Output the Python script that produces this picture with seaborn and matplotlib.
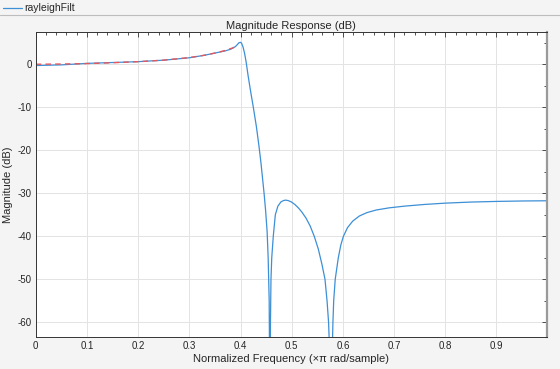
import numpy as np
import pandas as pd
import seaborn as sns
import matplotlib.pyplot as plt
from matplotlib.lines import Line2D
from matplotlib.ticker import MultipleLocator

# ---------------------------------------------------------
# data (normalized freq, dB)
# ---------------------------------------------------------
freq = [0.0, 0.05, 0.1, 0.15, 0.2, 0.25, 0.3, 0.33, 0.354, 0.37, 0.381, 0.39,
        0.394, 0.397, 0.4, 0.402, 0.405, 0.408, 0.411, 0.415, 0.42, 0.425,
        0.431, 0.436, 0.44, 0.443, 0.446, 0.449, 0.452, 0.454, 0.456, 0.4575,
        0.4585, 0.4595, 0.461, 0.464, 0.468, 0.473, 0.479, 0.484, 0.488,
        0.493, 0.499, 0.506, 0.513, 0.52, 0.528, 0.536, 0.544, 0.552, 0.559,
        0.565, 0.569, 0.572, 0.575, 0.577, 0.5785, 0.5805, 0.582, 0.585,
        0.591, 0.596, 0.601, 0.609, 0.619, 0.632, 0.647, 0.665, 0.69, 0.72,
        0.76, 0.8, 0.85, 0.9, 0.95, 0.998]
mag_db = [-0.3, -0.15, 0.2, 0.4, 0.6, 0.95, 1.5, 2.1, 2.7, 3.1, 3.5, 4.1,
          4.6, 5.0, 5.1, 4.9, 4.0, 2.5, 0.5, -2.8, -6.5, -10,
          -14.5, -19, -23, -26.5, -30, -34, -39, -45, -55, -85,
          -60, -50, -45, -40, -35, -33, -32, -31.7, -31.6,
          -31.7, -32.0, -32.6, -33.4, -34.4, -35.8, -37.6, -40, -43, -46.5,
          -50, -55, -60, -70, -85, -70, -60, -55, -50,
          -45, -42, -40, -38, -36.5, -35.3, -34.5, -33.9, -33.4, -33.0,
          -32.6, -32.3, -32.05, -31.9, -31.8, -31.75]

ideal_freq = [0.0, 0.05, 0.1, 0.15, 0.2, 0.25, 0.3, 0.33, 0.354, 0.37, 0.385, 0.392]
ideal_db = [0.0, 0.05, 0.15, 0.35, 0.6, 0.95, 1.55, 2.1, 2.7, 3.2, 3.8, 4.2]

xticks = [0, 0.1, 0.2, 0.3, 0.4, 0.5, 0.6, 0.7, 0.8, 0.9]
yticks = [-60, -50, -40, -30, -20, -10, 0]

resp = pd.DataFrame({"f": freq, "db": mag_db})
ideal = pd.DataFrame({"f": ideal_freq, "db": ideal_db})

# ---------------------------------------------------------
# style
# ---------------------------------------------------------
sns.set_theme(style="white")
plt.rcParams['font.family'] = ['Liberation Sans', 'DejaVu Sans']
bg = '#f4f4f4'
blue = '#3d8fd6'
red = '#e4575c'

fig = plt.figure(figsize=(5.6, 3.69), dpi=100, facecolor=bg)
ax = fig.add_axes([0.0638, 0.0859, 0.9124, 0.8274])
ax.set_facecolor('white')

sns.lineplot(data=resp, x="f", y="db", ax=ax, color=blue, lw=0.9,
             sort=False, estimator=None)
sns.lineplot(data=ideal, x="f", y="db", ax=ax, color=red, lw=1.0,
             linestyle=(0, (4, 3)), sort=False, estimator=None)

ax.set_xlim(0, 0.998)
ax.set_ylim(-63.5, 7.5)
ax.set_xticks(xticks)
ax.set_xticklabels([f"{t:g}" for t in xticks])
ax.set_yticks(yticks)
ax.set_yticklabels([f"{t:g}" for t in yticks])
ax.xaxis.set_minor_locator(MultipleLocator(0.02))
ax.yaxis.set_minor_locator(MultipleLocator(5))
ax.tick_params(which='both', direction='in', top=True, right=True,
               labelsize=7, color='#333333', width=0.6, pad=3)
ax.tick_params(which='major', length=3.5)
ax.tick_params(which='minor', length=2)
ax.grid(True, which='major', color='#e3e3e3', lw=0.7)
ax.set_axisbelow(True)
for s in ax.spines.values():
    s.set_color('#333333')
    s.set_linewidth(0.7)
ax.spines['right'].set_color('#9a9a9a')
ax.spines['right'].set_linewidth(1.6)

ax.set_title('Magnitude Response (dB)', fontsize=8, pad=2)
ax.set_xlabel('Normalized Frequency (\u00d7\u03c0 rad/sample)', fontsize=8, labelpad=2)
ax.set_ylabel('Magnitude (dB)', fontsize=8, labelpad=3)

# legend strip at the top
fig.add_artist(Line2D([3 / 560, 22 / 560], [1 - 8 / 369] * 2, color=blue, lw=0.9,
                      transform=fig.transFigure))
fig.text(24 / 560, 1 - 8 / 369, 'rayleighFilt', fontsize=7.5, va='center', ha='left')
fig.add_artist(Line2D([0, 1], [1 - 15 / 369] * 2, color='#bdbdbd', lw=0.8,
                      transform=fig.transFigure))

plt.savefig('out.png', dpi=100, facecolor=bg)
